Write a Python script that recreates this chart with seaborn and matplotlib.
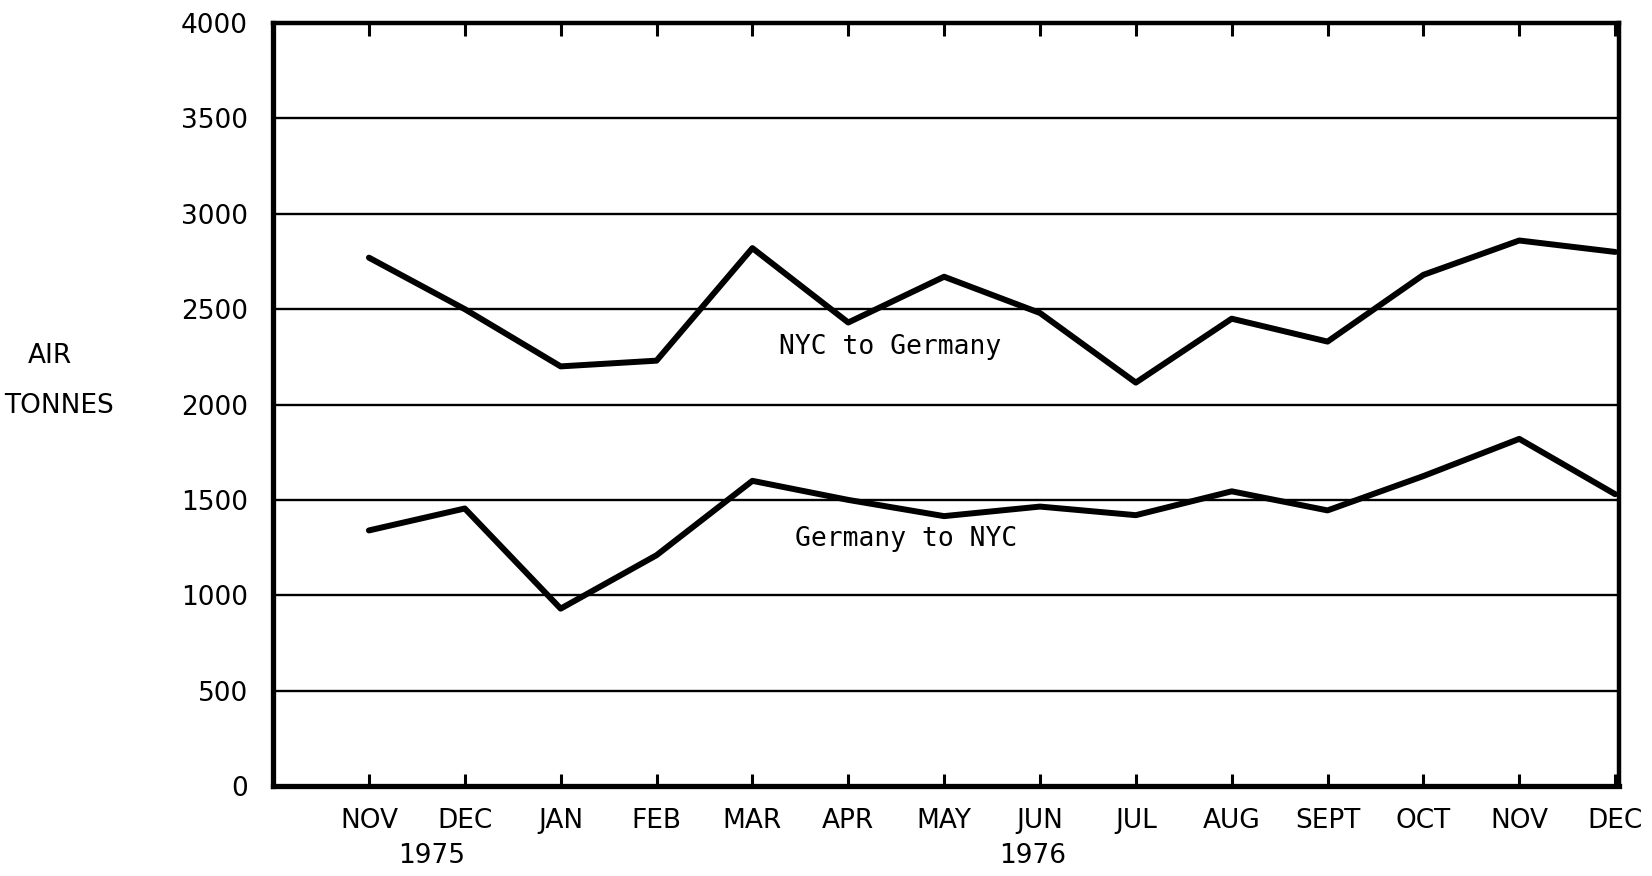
import numpy as np
import pandas as pd
import matplotlib
matplotlib.use("Agg")
import matplotlib.pyplot as plt
import matplotlib.transforms as mtransforms
import seaborn as sns

months = ["NOV", "DEC", "JAN", "FEB", "MAR", "APR", "MAY", "JUN",
          "JUL", "AUG", "SEPT", "OCT", "NOV", "DEC"]
nyc_to_germany = [2770, 2500, 2200, 2230, 2820, 2430, 2670, 2480,
                  2115, 2450, 2330, 2680, 2860, 2800]
germany_to_nyc = [1340, 1455, 930, 1210, 1600, 1500, 1415, 1465,
                  1420, 1545, 1445, 1625, 1820, 1530]
yticks = [0, 500, 1000, 1500, 2000, 2500, 3000, 3500, 4000]
years = ["1975", "1976"]

# long table for seaborn
idx = np.arange(len(months))
df = pd.DataFrame({
    "month": np.concatenate([idx, idx]),
    "tonnes": nyc_to_germany + germany_to_nyc,
    "route": ["NYC to Germany"] * len(months) + ["Germany to NYC"] * len(months),
})

sns.set_style("white")
plt.rcParams["font.family"] = ["DejaVu Sans"]
plt.rcParams["text.color"] = "black"
plt.rcParams["xtick.color"] = "black"
plt.rcParams["ytick.color"] = "black"

fig = plt.figure(figsize=(16.52, 8.76), dpi=100)
ax = fig.add_axes([0.1653, 0.1027, 0.8147, 0.871])

# grid lines
for v in yticks[1:-1]:
    ax.axhline(v, color="black", lw=1.7, zorder=1)

sns.lineplot(data=df, x="month", y="tonnes", hue="route",
             palette=["black", "black"], linewidth=4.3, legend=False,
             ax=ax, zorder=3)

ax.set_xlim(-1, 13.04)
ax.set_ylim(0, 4000)
ax.set_xticks(idx)
ax.set_xticklabels(months)
ax.set_yticks(yticks)
ax.set_xlabel("")
ax.set_ylabel("")
ax.tick_params(axis="x", direction="in", length=9, width=2.2, top=True,
               bottom=True, labelsize=19, pad=16, color="black")
ax.tick_params(axis="y", length=0, labelsize=19, pad=18)

for side, w in [("left", 3.8), ("bottom", 3.8), ("top", 3.2), ("right", 3.2)]:
    ax.spines[side].set_visible(True)
    ax.spines[side].set_linewidth(w)
    ax.spines[side].set_color("black")

# series labels
ax.text(5.44, 2300, "NYC to Germany", family="DejaVu Sans Mono", fontsize=19,
        ha="center", va="center")
ax.text(5.6, 1295, "Germany to NYC", family="DejaVu Sans Mono", fontsize=19,
        ha="center", va="center")

# year labels below month labels
trans = mtransforms.blended_transform_factory(ax.transData, ax.transAxes)
ax.text(0.65, -0.092, years[0], transform=trans, fontsize=19, ha="center", va="center")
ax.text(6.92, -0.092, years[1], transform=trans, fontsize=19, ha="center", va="center")

fig.text(0.030, 0.594, "AIR", fontsize=19, ha="center", va="center")
fig.text(0.036, 0.537, "TONNES", fontsize=19, ha="center", va="center")

fig.savefig("out.png", dpi=100, facecolor="white")
